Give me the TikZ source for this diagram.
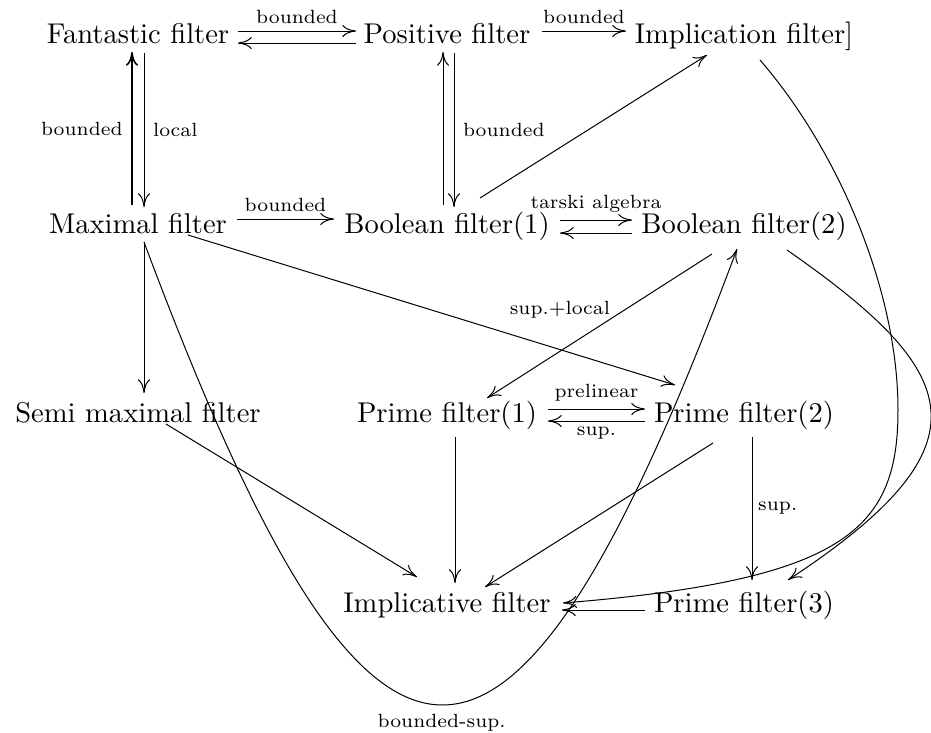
\documentclass[tikz,border=0pt]{standalone}
\usetikzlibrary{arrows.meta,calc}
\begin{document}
\begin{tikzpicture}[x=0.35pt,y=-0.35pt,
  obj/.style={inner sep=0pt, anchor=base, font=\fontsize{10}{12}\selectfont},
  lab/.style={inner sep=0pt, font=\fontsize{6.7}{8}\selectfont},
  arr/.style={line width=0.35pt, -{Computer Modern Rightarrow[length=4.8pt,width=4.2pt]}},
  thickarr/.style={arr, line width=0.55pt}]
\useasboundingbox (0,0) rectangle (931,732);
% nodes
\node[obj] (fan)  at (138,43)  {Fantastic filter};
\node[obj] (pos)  at (447,43)  {Positive filter};
\node[obj] (imp)  at (744,43)  {Implication filter]};
\node[obj] (max)  at (138,233) {Maximal filter};
\node[obj] (bo1)  at (447,233) {Boolean filter(1)};
\node[obj] (bo2)  at (744,233) {Boolean filter(2)};
\node[obj] (semi) at (138,422) {Semi maximal filter};
\node[obj] (pr1)  at (447,422) {Prime filter(1)};
\node[obj] (pr2)  at (744,422) {Prime filter(2)};
\node[obj] (impl) at (447,612) {Implicative filter};
\node[obj] (pr3)  at (744,612) {Prime filter(3)};
% row 1
\draw[arr] ($(fan.base)+(100,-12)$) -- node[lab, above=2.4pt] (l1) {bounded} ($(pos.base)+(-91,-12)$);
\draw[arr] ($(pos.base)+(-91,0)$) -- ($(fan.base)+(100,0)$);
\draw[arr] ($(pos.base)+(95,-12)$) -- node[lab, above=2.4pt] (l3) {bounded} ($(imp.base)+(-118,-12)$);
% verticals col 1
\draw[thickarr] ($(max.base)+(-6,-28)$) -- node[lab, left=3pt] (l4) {bounded} ($(fan.base)+(-6,9)$);
\draw[arr] ($(fan.base)+(6,10)$) -- node[lab, right=3pt] (l5) {local} ($(max.base)+(6,-26)$);
% verticals col 2
\draw[arr] ($(bo1.base)+(-4,-28)$) -- ($(pos.base)+(-4,9)$);
\draw[arr] ($(pos.base)+(7,10)$) -- node[lab, right=3pt] (l7) {bounded} ($(bo1.base)+(7,-26)$);
% row 2
\draw[arr] ($(max.base)+(99,-14)$) -- node[lab, above=2.4pt] (l8) {bounded} ($(bo1.base)+(-113,-14)$);
\draw[arr] ($(bo1.base)+(113,-13)$) -- node[lab, above=2.4pt] (l9) {tarski algebra} ($(bo2.base)+(-112,-13)$);
\draw[arr] ($(bo2.base)+(-112,0)$) -- ($(bo1.base)+(113,0)$);
% diagonals
\draw[arr] ($(bo1.base)+(33,-35)$) -- ($(imp.base)+(-37,12)$);
\draw[arr] ($(bo2.base)+(-32,21)$) -- node[lab, pos=0.39, left=4.8pt] (l14) {sup.+local} ($(pr1.base)+(40,-24)$);
\draw[arr] ($(max.base)+(50,2)$) -- ($(pr2.base)+(-69,-37)$);
\draw[arr] ($(max.base)+(6,9)$) -- ($(semi.base)+(6,-29)$);
% curves
\draw[arr] ($(imp.base)+(16,17)$) .. controls (838,150) and (898,290) .. (898,410)
   .. controls (898,530) and (845,580) .. ($(impl.base)+(116,-9)$);
\draw[arr] ($(bo2.base)+(43,17)$) .. controls (962,372) and (995,444) .. ($(pr3.base)+(44,-32)$);
\draw[arr] ($(max.base)+(6,9)$) .. controls (374,858) and (510,858) .. node[lab, pos=0.5, below=3pt] (l17) {bounded-sup.} ($(bo2.base)+(-7,16)$);
% row 3
\draw[arr] ($(pr1.base)+(101,-13)$) -- node[lab, above=2.4pt] (l18) {prelinear} ($(pr2.base)+(-99,-13)$);
\draw[arr] ($(pr2.base)+(-99,-1)$) -- node[lab, below=2pt] (l19) {sup.} ($(pr1.base)+(101,-1)$);
% to bottom
\draw[arr] ($(pr1.base)+(8,15)$) -- ($(impl.base)+(8,-29)$);
\draw[arr] ($(semi.base)+(28,2)$) -- ($(impl.base)+(-30,-35)$);
\draw[arr] ($(pr2.base)+(-31,21)$) -- ($(impl.base)+(38,-25)$);
\draw[arr] ($(pr2.base)+(8,15)$) -- node[lab, right=2pt] (l23) {sup.} ($(pr3.base)+(8,-32)$);
\draw[arr] ($(pr3.base)+(-99,-2)$) -- ($(impl.base)+(115,-2)$);
\end{tikzpicture}
\end{document}
